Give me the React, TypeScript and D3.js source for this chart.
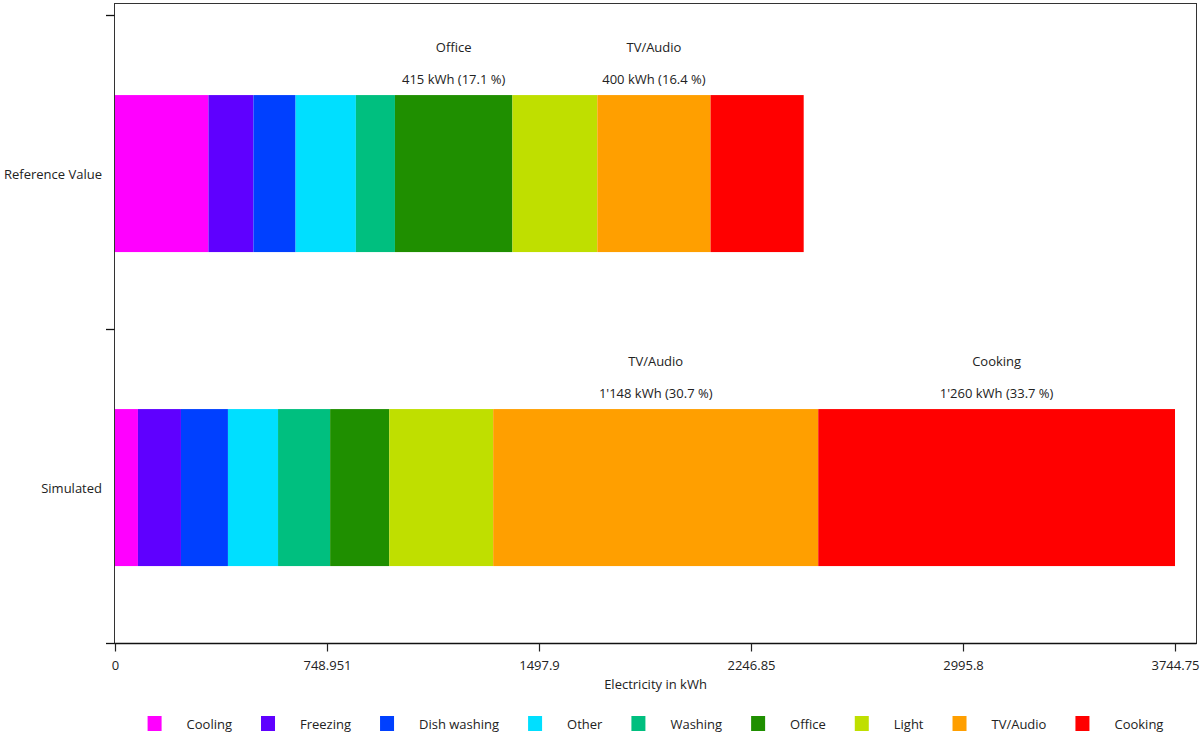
import React, { useMemo } from "react";
import * as d3 from "d3";

const categories = ["Cooling", "Freezing", "Dish washing", "Other", "Washing", "Office", "Light", "TV/Audio", "Cooking"];
const colors = ["#ff00ff", "#5f00ff", "#0040ff", "#00dfff", "#00bf7f", "#1f8f00", "#bfdf00", "#ff9f00", "#ff0000"];
const rows = ["Reference Value", "Simulated"];
const referenceValues = [330, 159, 149, 213, 138, 415, 300, 400, 329];
const simulatedValues = [81, 152, 166, 177, 184, 209, 367, 1148.4, 1260.4];
const axisMax = 3744.755;
const xTickLabels = ["0", "748.951", "1497.9", "2246.85", "2995.8", "3744.75"];
const axisTitle = "Electricity in kWh";

const W = 1201;
const H = 735;
const FONT = "'Open Sans', 'Noto Sans', sans-serif";
const FS = 13;

const frame = { left: 114.5, top: 3.5, right: 1196.5, bottom: 643.5 };

function measure(text: string, size: number) {
  const c = document.createElement("canvas");
  const ctx = c.getContext("2d")!;
  ctx.font = `${size}px ${FONT}`;
  return ctx.measureText(text).width;
}

const locale = d3.formatLocale({ decimal: ".", thousands: "'", grouping: [3], currency: ["", ""] });
const fmtInt = locale.format(",.0f");

export default function App() {
  const x = d3.scaleLinear().domain([0, axisMax]).range([115, 1175]);
  const y = d3.scaleBand<string>().domain(rows).range([15, 643]).padding(0);
  const bw = y.bandwidth();
  const data = [referenceValues, simulatedValues];

  const legend = useMemo(() => {
    const sq = 14, gapText = 25, gapAfter = 29;
    const widths = categories.map((c) => measure(c, FS));
    const total = widths.reduce((a, w) => a + sq + gapText + w, 0) + gapAfter * (categories.length - 1);
    let cx = (frame.left + frame.right) / 2 - total / 2;
    return categories.map((c, i) => {
      const item = { x: cx, tx: cx + sq + gapText, c, color: colors[i] };
      cx += sq + gapText + widths[i] + gapAfter;
      return item;
    });
  }, []);

  return (
    <svg width={W} height={H} style={{ display: "block", position: "absolute", left: 0, top: 0 }} fontFamily={FONT} fontSize={FS}>
      <rect x={0} y={0} width={W} height={H} fill="#fff" />
      {rows.map((r, ri) => {
        const vals = data[ri];
        const total = d3.sum(vals);
        const starts = d3.cumsum([0, ...vals.slice(0, -1)]);
        const top = (y(r) as number) + bw * 0.255;
        const h = bw * 0.5;
        const order = d3.range(vals.length).sort((a, b) => vals[b] - vals[a]).slice(0, 2);
        return (
          <g key={r}>
            {vals.map((v, i) => (
              <rect key={i} x={x(starts[i])} y={top} width={x(starts[i] + v) - x(starts[i])} height={h} fill={colors[i]} />
            ))}
            {order.map((i) => {
              const cx = (x(starts[i]) + x(starts[i] + vals[i])) / 2;
              return (
                <g key={"l" + i} textAnchor="middle" fill="#222">
                  <text x={cx} y={top - 48} dominantBaseline="central">{categories[i]}</text>
                  <text x={cx} y={top - 16} dominantBaseline="central">
                    {`${fmtInt(vals[i])} kWh (${((vals[i] / total) * 100).toFixed(1)} %)`}
                  </text>
                </g>
              );
            })}
            <text x={102} y={top + h / 2} textAnchor="end" dominantBaseline="central" fill="#222">{r}</text>
          </g>
        );
      })}
      {/* frame */}
      <rect x={frame.left} y={frame.top} width={frame.right - frame.left} height={frame.bottom - frame.top} fill="none" stroke="#333" strokeWidth={1} />
      <line x1={frame.left} x2={frame.right} y1={frame.bottom} y2={frame.bottom} stroke="#111" strokeWidth={1.3} />
      {/* y ticks */}
      {[...rows.map((r) => y(r) as number), 643].map((ty, i) => (
        <line key={i} x1={106} x2={frame.left} y1={Math.round(ty) + 0.5} y2={Math.round(ty) + 0.5} stroke="#111" strokeWidth={1.3} />
      ))}
      {/* x ticks */}
      {xTickLabels.map((t, i) => {
        const tx = Math.round(x((axisMax * i) / 5)) + 0.5;
        return (
          <g key={t}>
            <line x1={tx} x2={tx} y1={frame.bottom} y2={frame.bottom + 8} stroke="#222" strokeWidth={1.2} />
            <text x={tx} y={665} textAnchor="middle" dominantBaseline="central" fill="#222">{t}</text>
          </g>
        );
      })}
      <text x={(frame.left + frame.right) / 2} y={684} textAnchor="middle" dominantBaseline="central" fill="#222">{axisTitle}</text>
      {legend.map((l) => (
        <g key={l.c}>
          <rect x={l.x} y={716} width={14} height={15} fill={l.color} />
          <text x={l.tx} y={724} dominantBaseline="central" fill="#222">{l.c}</text>
        </g>
      ))}
    </svg>
  );
}
